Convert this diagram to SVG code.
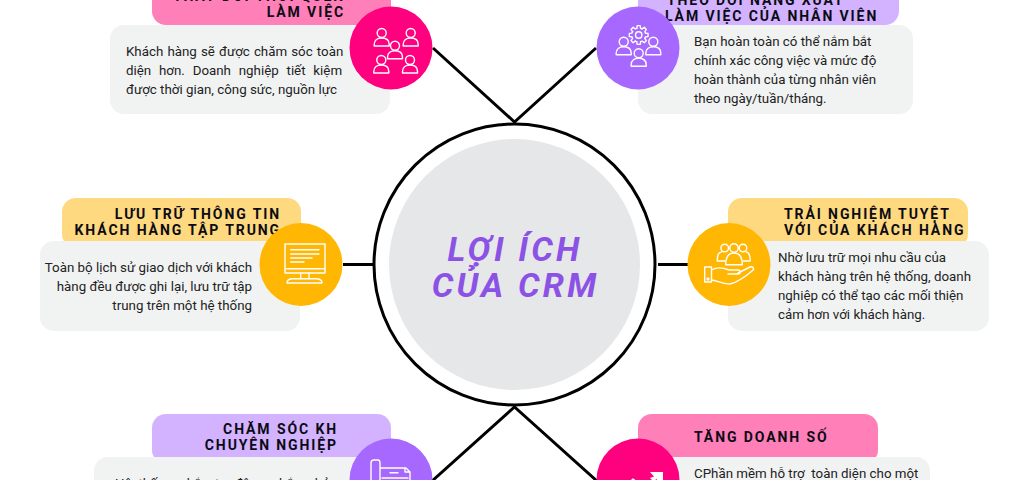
<svg xmlns="http://www.w3.org/2000/svg" width="1024" height="480" viewBox="0 0 1024 480">
<style>
.t{font:700 14px Roboto,"Noto Sans",sans-serif;letter-spacing:1.900px;fill:#0b0b14}
.b{font:400 13.330px Roboto,"Noto Sans",sans-serif;fill:#222}
.e{text-anchor:end}
.c{font:italic 700 34px Roboto,"Noto Sans",sans-serif;letter-spacing:3.200px;fill:#8c52e6;text-anchor:middle}
.card{fill:#f1f3f3}
.pk{fill:#ff7fb8}.pu{fill:#d3b3ff}.ye{fill:#ffd97f}
.i{fill:none;stroke:#fff;stroke-width:1.4;stroke-linejoin:round;stroke-linecap:round}
.ln{fill:none;stroke:#000;stroke-width:3}
</style>
<defs>
<g id="person"><circle cx="0" cy="0" r="4.5"/><path d="M-7.5 13V11.500C-7.500 7 -4 5 0 5S7.500 7 7.500 11.500V13Z"/></g>
<path id="tooth" d="M6.730 -1.930L9.380 -1.490V1.490L6.730 1.930L6.120 3.390"/>
</defs>
<rect width="1024" height="480" fill="#fff"/>
<g id="connectors">
<path class="ln" d="M433 48L514.500 122L596 48"/>
<path class="ln" d="M343 264.500H373M658 264.500H688"/>
<path class="ln" d="M432 481L514.500 407L597 481"/>
</g>
<g id="center">
<circle cx="514.500" cy="264.500" r="140.500" fill="#fff" stroke="#000" stroke-width="3"/>
<circle cx="514.500" cy="264.500" r="125.500" fill="#e6e7e8"/>
<text class="c" x="515" y="261">LỢI ÍCH</text>
<text class="c" x="515.500" y="297">CỦA CRM</text>
</g>
<g id="node-top-left">
<rect class="pk" x="152" y="-30" width="239" height="55" rx="14"/>
<rect class="card" x="110" y="25" width="280" height="89" rx="14"/>
<text class="t e" x="345" y="1">THAY ĐỔI THÓI QUEN</text>
<text class="t e" x="345" y="17">LÀM VIỆC</text>
<text class="b" x="126" y="56" word-spacing="0.800">Khách hàng sẽ được chăm sóc toàn</text>
<text class="b" x="126" y="75" word-spacing="4.500">diện hơn. Doanh nghiệp tiết kiệm</text>
<text class="b" x="126" y="94">được thời gian, công sức, nguồn lực</text>
<circle cx="391" cy="48" r="41.500" fill="#ff007f"/>
<g class="i">
<use href="#person" x="381.700" y="33"/><use href="#person" x="410.700" y="33"/><use href="#person" x="395" y="45.700"/><use href="#person" x="381.300" y="60"/><use href="#person" x="410" y="60"/>
</g>
</g>
<g id="node-top-right">
<rect class="pu" x="638" y="-30" width="261" height="55" rx="14"/>
<rect class="card" x="638" y="25" width="275" height="89" rx="14"/>
<text class="t" x="667" y="5">THEO DÕI NĂNG XUẤT</text>
<text class="t" x="665" y="21">LÀM VIỆC CỦA NHÂN VIÊN</text>
<text class="b" x="694" y="46">Bạn hoàn toàn có thể nắm bắt</text>
<text class="b" x="694" y="65">chính xác công việc và mức độ</text>
<text class="b" x="694" y="84">hoàn thành của từng nhân viên</text>
<text class="b" x="694" y="103">theo ngày/tuần/tháng.</text>
<circle cx="638" cy="48" r="41.500" fill="#a668ff"/>
<g class="i">
<use href="#person" x="623.700" y="41.700"/><use href="#person" x="653.300" y="41.700"/><use href="#person" x="638.700" y="53.300"/>
<circle cx="638.700" cy="35" r="3.200"/>
<g transform="translate(638.700 35)">
<use href="#tooth"/><use href="#tooth" transform="rotate(45)"/><use href="#tooth" transform="rotate(90)"/><use href="#tooth" transform="rotate(135)"/><use href="#tooth" transform="rotate(180)"/><use href="#tooth" transform="rotate(225)"/><use href="#tooth" transform="rotate(270)"/><use href="#tooth" transform="rotate(315)"/>
</g>
</g>
</g>
<g id="node-mid-left">
<rect class="ye" x="62" y="198" width="239" height="50" rx="14"/>
<rect class="card" x="40" y="241" width="260" height="90" rx="14"/>
<text class="t e" x="281" y="219">LƯU TRỮ THÔNG TIN</text>
<text class="t e" x="281" y="235">KHÁCH HÀNG TẬP TRUNG</text>
<text class="b e" x="252" y="272">Toàn bộ lịch sử giao dịch với khách</text>
<text class="b e" x="252" y="291">hàng đều được ghi lại, lưu trữ tập</text>
<text class="b e" x="252" y="310">trung trên một hệ thống</text>
<circle cx="301" cy="264.500" r="41.500" fill="#ffb703"/>
<g class="i" stroke-width="1.200">
<path d="M285 273V244H325V273ZM285 268.700H325M290.700 249.700H319M290.700 254H319M290.700 258H312M290.700 262H304M300.700 273V278.700M309 273V278.700"/>
<path d="M287 283C287 280 290 278.700 293 278.700H316C319 278.700 322 280 322 283Z"/>
</g>
</g>
<g id="node-mid-right">
<rect class="ye" x="728" y="198" width="240" height="50" rx="14"/>
<rect class="card" x="728" y="241" width="261" height="90" rx="14"/>
<text class="t" x="784" y="219">TRẢI NGHIỆM TUYỆT</text>
<text class="t" x="784" y="235">VỚI CỦA KHÁCH HÀNG</text>
<text class="b" x="778" y="262">Nhờ lưu trữ mọi nhu cầu của</text>
<text class="b" x="778" y="281">khách hàng trên hệ thống, doanh</text>
<text class="b" x="778" y="300">nghiệp có thể tạo các mối thiện</text>
<text class="b" x="778" y="319">cảm hơn với khách hàng.</text>
<circle cx="729" cy="264.500" r="41.500" fill="#ffb703"/>
<g class="i">
<circle cx="724.700" cy="248" r="3.800"/><circle cx="734" cy="248" r="4.200"/><circle cx="743" cy="248" r="3.800"/>
<path d="M725.700 264.700C725.700 257 729 253 734 253S742.300 257 742.300 264.700Z"/>
<path d="M725 261H717.300C717.300 255 718 252.500 721.500 252M743 261H750.200C750.200 255 749.500 252.500 746.500 252"/>
<rect x="704.700" y="267" width="6.800" height="15"/>
<circle cx="708" cy="279" r="1"/>
<path d="M711.500 270C718 266 724 268 729 270H738C741 270 741 274 738 274H728M738 273L750 267C753 266 755 269 752 271C745 277 738 282 730 284C722 284 716 280 711.500 280"/>
</g>
</g>
<g id="node-bottom-left">
<rect class="pu" x="152" y="414" width="239" height="50" rx="14"/>
<rect class="card" x="94" y="457" width="296" height="40" rx="14"/>
<text class="t e" x="338" y="434">CHĂM SÓC KH</text>
<text class="t e" x="338" y="450">CHUYÊN NGHIỆP</text>
<text class="b" x="115" y="488" word-spacing="3.500">Hệ thống nhắc tự động nhắc nhở</text>
<circle cx="391" cy="480" r="41.500" fill="#a668ff"/>
<path class="i" d="M371 486V463C371 461 372 460 374 460H378C379.500 460 380 461 380 463V486M380 468H406L410 472V486M405 468V472H410M390 472.700H398M382 478H408"/>
</g>
<g id="node-bottom-right">
<rect class="pk" x="638" y="414" width="240" height="50" rx="14"/>
<rect class="card" x="638" y="457" width="292" height="40" rx="14"/>
<text class="t" x="694" y="442">TĂNG DOANH SỐ</text>
<text class="b" x="694" y="478" xml:space="preserve">CPhần mềm hỗ trợ  toàn diện cho một</text>
<circle cx="638" cy="480" r="41.500" fill="#ff007f"/>
<path d="M650 472H663V486H657V479L653 481L650 478L654 476.500Z" fill="#fff"/>
<path class="i" d="M628 484L633 479L637 482"/>
</g>
</svg>
